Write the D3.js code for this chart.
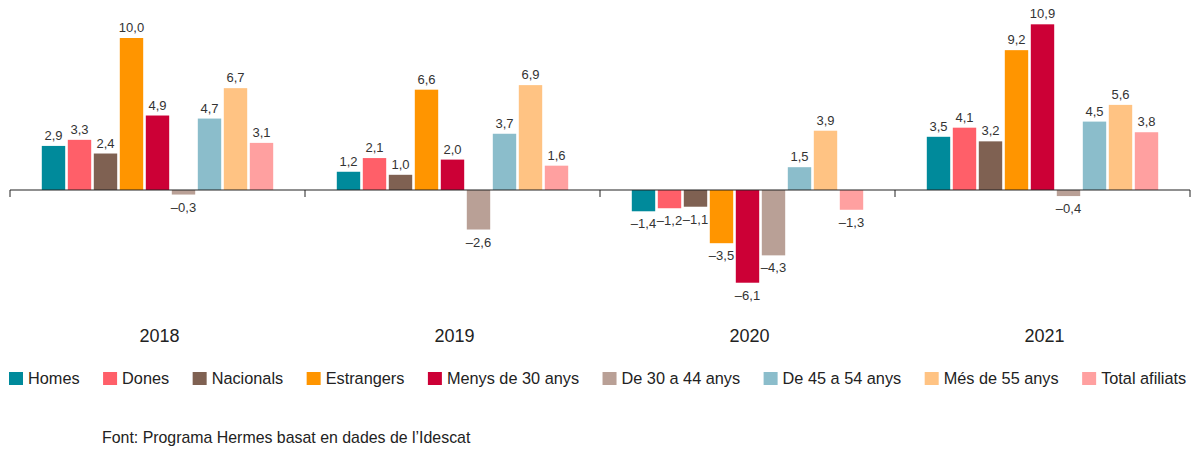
<!DOCTYPE html>
<html>
<head>
<meta charset="utf-8">
<script src="https://cdn.jsdelivr.net/npm/d3@7/dist/d3.min.js"></script>
<style>
  html, body { margin: 0; padding: 0; background: #fff; }
  svg { display: block; font-family: "Liberation Sans", Arial, Helvetica, sans-serif; }
</style>
</head>
<body>
<svg id="chart" width="1200" height="450"></svg>
<script>
const years = ["2018", "2019", "2020", "2021"];
const seriesNames = ["Homes", "Dones", "Nacionals", "Estrangers", "Menys de 30 anys",
  "De 30 a 44 anys", "De 45 a 54 anys", "Més de 55 anys", "Total afiliats"];
const seriesColors = ["#008a9b", "#ff5f69", "#7f6152", "#ff9500", "#cc0036",
  "#b9a096", "#8bbdcb", "#ffc383", "#ffa0a0"];
const values2018 = [2.9, 3.3, 2.4, 10.0, 4.9, -0.3, 4.7, 6.7, 3.1];
const values2019 = [1.2, 2.1, 1.0, 6.6, 2.0, -2.6, 3.7, 6.9, 1.6];
const values2020 = [-1.4, -1.2, -1.1, -3.5, -6.1, -4.3, 1.5, 3.9, -1.3];
const values2021 = [3.5, 4.1, 3.2, 9.2, 10.9, -0.4, 4.5, 5.6, 3.8];
const valuesByYear = [values2018, values2019, values2020, values2021];
const sourceText = "Font: Programa Hermes basat en dades de l\u2019Idescat";

const svg = d3.select("#chart");

const x0 = d3.scaleBand().domain(years).range([10, 1190]).paddingInner(0).paddingOuter(0);
const innerW = 234;
const x1 = d3.scaleBand().domain(seriesNames)
  .range([x0.bandwidth() / 2 - innerW / 2, x0.bandwidth() / 2 + innerW / 2])
  .paddingInner(0.1).paddingOuter(0.05);
const y = d3.scaleLinear().domain([0, 10]).range([190, 38]);

const fmt = v => (v < 0 ? "\u2013" : "") + d3.format(".1f")(Math.abs(v)).replace(".", ",");

const data = years.map((yr, i) => ({
  year: yr,
  items: seriesNames.map((s, j) => ({ name: s, value: valuesByYear[i][j], color: seriesColors[j] }))
}));

const groups = svg.selectAll("g.year").data(data).enter().append("g")
  .attr("class", "year")
  .attr("transform", d => `translate(${x0(d.year)},0)`);

groups.selectAll("rect").data(d => d.items).enter().append("rect")
  .attr("x", d => x1(d.name))
  .attr("width", x1.bandwidth())
  .attr("y", d => y(Math.max(0, d.value)))
  .attr("height", d => Math.abs(y(d.value) - y(0)))
  .attr("fill", d => d.color);

groups.selectAll("text.val").data(d => d.items).enter().append("text")
  .attr("class", "val")
  .attr("x", d => x1(d.name) + x1.bandwidth() / 2)
  .attr("y", d => d.value >= 0 ? y(d.value) - 6 : y(d.value) + 17)
  .attr("text-anchor", "middle")
  .attr("font-size", 13)
  .attr("fill", "#333")
  .text(d => fmt(d.value));

// axis
const axisG = svg.append("g").attr("transform", `translate(0,${y(0)})`);
axisG.append("line").attr("x1", 10).attr("x2", 1190).attr("y1", 0).attr("y2", 0)
  .attr("stroke", "#222").attr("stroke-width", 1.2);
const tickXs = years.map(yr => x0(yr)).concat([x0(years[years.length - 1]) + x0.bandwidth()]);
axisG.selectAll("line.tick").data(tickXs).enter().append("line")
  .attr("class", "tick")
  .attr("x1", d => d).attr("x2", d => d).attr("y1", 0).attr("y2", 7)
  .attr("stroke", "#222").attr("stroke-width", 1);

// year labels
svg.selectAll("text.yr").data(years).enter().append("text")
  .attr("class", "yr")
  .attr("x", d => x0(d) + x0.bandwidth() / 2 + 2)
  .attr("y", 342)
  .attr("text-anchor", "middle")
  .attr("font-size", 18)
  .attr("fill", "#222")
  .text(d => d);

// legend
const legend = svg.append("g");
let lx = 9;
seriesNames.forEach((s, j) => {
  const g = legend.append("g").attr("transform", `translate(${lx},0)`);
  g.append("rect").attr("x", 0).attr("y", 372).attr("width", 14).attr("height", 13).attr("fill", seriesColors[j]);
  const t = g.append("text").attr("x", 19).attr("y", 384).attr("font-size", 16.3).attr("fill", "#222").text(s);
  const w = t.node().getComputedTextLength();
  lx += 19 + w + 23.5;
});

// source
svg.append("text").attr("x", 102).attr("y", 443).attr("font-size", 15.9).attr("fill", "#222").text(sourceText);
</script>
</body>
</html>
